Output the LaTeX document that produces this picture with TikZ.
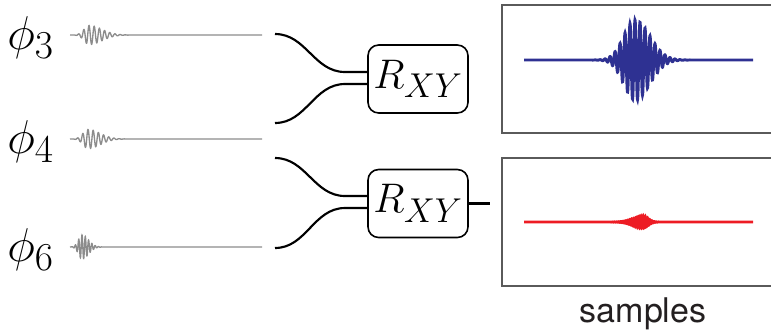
\documentclass[tikz,border=0pt]{standalone}
\usepackage{fontspec}
\newfontfamily\heros{TeX Gyre Heros}
\usetikzlibrary{calc}
\definecolor{wavegray}{RGB}{140,140,140}
\definecolor{sigblue}{RGB}{46,49,146}
\definecolor{sigred}{RGB}{237,28,36}
\definecolor{framegray}{RGB}{90,90,90}
\definecolor{textdark}{RGB}{35,31,32}
\newcommand{\philbl}[1]{\scalebox{1.43}{\Huge$#1$}}
\newcommand{\rlbl}[1]{\scalebox{1.246}{\Huge$#1$}}
\begin{document}
\begin{tikzpicture}[x=0.75pt,y=-0.75pt,
  philabel/.style={anchor=base west, inner sep=0pt},
  rbox/.style={draw, line width=1.2pt, rounded corners=8pt, minimum width=75pt, minimum height=51pt, inner sep=0pt},
  wire/.style={line width=1.6pt},
  wave/.style={wavegray, line width=1pt},
  frame/.style={framegray, line width=1.1pt},
  sig/.style={line width=2.2pt}]
\useasboundingbox (0,0) rectangle (771,330);

% labels
\node[philabel] (p3) at (7,49) {\philbl{\phi_3}};
\node[philabel] (p4) at (7,153) {\philbl{\phi_4}};
\node[philabel] (p6) at (7,261) {\philbl{\phi_6}};

% gray input waveforms
\coordinate (w3) at (262,35);
\coordinate (w4) at (262,139);
\coordinate (w6) at (262,247);
\draw[wave] (70,35) -- plot[domain=72:150, samples=500] (\x,{35 - 9.5*exp(-((\x-89)/((\x<89)?7:18))^2)*cos((\x-89)*69.23)}) -- (w3);
\draw[wave] (70,139) -- plot[domain=72:150, samples=500] (\x,{139 - 9.5*exp(-((\x-88)/((\x<88)?7:17))^2)*cos((\x-88)*69.23)}) -- (w4);
\draw[wave] (70,247) -- plot[domain=72:125, samples=500] (\x,{247 - 12*exp(-((\x-82)/((\x<82)?5:9))^2)*cos((\x-82)*109.1)}) -- (w6);

% boxes
\node[rbox] (r1) at (418,79) {\rlbl{R_{XY}}};
\node[rbox] (r2) at (418,203.5) {\rlbl{R_{XY}}};

% wires
\coordinate (a1) at (275,34);
\coordinate (a2) at (275,123);
\coordinate (a3) at (275,158);
\coordinate (a4) at (275,248);
\coordinate (o2) at (490,203.5);
\draw[wire] (a1) to[out=0,in=180] (345,72) -- ($(r1.west)+(0,-7)$);
\draw[wire] (a2) to[out=0,in=180] (345,84) -- ($(r1.west)+(0,5)$);
\draw[wire] (a3) to[out=0,in=180] (345,196) -- ($(r2.west)+(0,-7.5)$);
\draw[wire] (a4) to[out=0,in=180] (345,208) -- ($(r2.west)+(0,4.5)$);
\draw[wire] (r2.east) -- (o2);

% sample panels
\draw[frame] (772,5) -| (502,133) -- (772,133);
\draw[frame] (772,158) -| (502,286) -- (772,286);

\draw[sig, sigblue] (524,60) -- (580,60) -- plot[domain=580:700, samples=800] (\x,{60 - 40*exp(-((\x-635)/((\x<635)?16:21))^2)*cos((\x-635)*72)}) -- (753,60);
\draw[sig, sigred] (524,222) -- (600,222) -- plot[domain=600:670, samples=800] (\x,{222 - 6*exp(-((\x-643)/((\x<643)?14:7))^2)*cos((\x-643)*163.6)}) -- (753,222);

\node[font=\heros\fontsize{25.5}{30}\selectfont, anchor=base, text=textdark, inner sep=0pt] (lbl) at (643,322) {samples};
\end{tikzpicture}
\end{document}
